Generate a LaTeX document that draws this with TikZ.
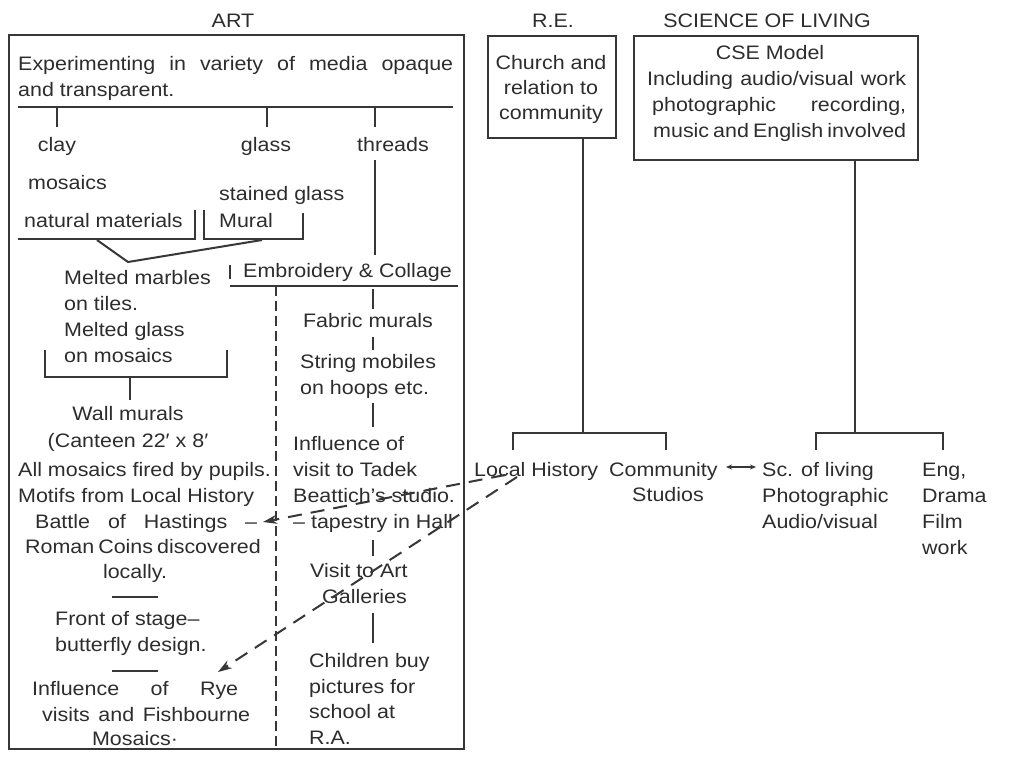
\documentclass[tikz,border=0pt]{standalone}
\usepackage{fontspec}
\setmainfont{Liberation Sans}[FakeStretch=1.1]
\usetikzlibrary{arrows.meta}
\definecolor{ink}{RGB}{55,55,55}
\definecolor{txt}{RGB}{45,45,45}
\newcommand{\myfs}{\fontsize{19.5}{26}\selectfont}
\tikzset{
 every node/.style={font=\myfs, inner sep=0pt, text=txt},
 tl/.style={anchor=base west},
 tc/.style={anchor=base},
 ln/.style={draw=ink, line width=2pt},
 dsh/.style={draw=ink, line width=2pt, dash pattern=on 10pt off 5pt},
 darr/.style={draw=ink, line width=2pt, dash pattern=on 14pt off 9pt, -{Stealth[length=14pt,width=9pt]}},
 boxx/.style={draw=ink, line width=2pt, inner sep=0pt},
 dbl/.style={draw=ink, line width=1.5pt, {Stealth[length=6pt,width=5pt]}-{Stealth[length=6pt,width=5pt]}},
}
\begin{document}
\begin{tikzpicture}[x=1pt,y=-1pt]
\useasboundingbox[fill=white] (0,0) rectangle (1009,758);
% titles
\node[tc] (tart) at (233,27) {ART};
\node[tc] (tre) at (553,27) {R.E.};
\node[tc] (tsol) at (767,27) {SCIENCE OF LIVING};
% frames
\node[boxx, minimum width=455pt, minimum height=714pt, anchor=north west] (art) at (8,34) {};
\node[boxx, minimum width=128pt, minimum height=102pt, anchor=north west] (re) at (487,35) {};
\node[boxx, minimum width=284pt, minimum height=124pt, anchor=north west] (sol) at (633,35) {};
% ART top
\node[tl] (exp1) at (18,70) {\makebox[435pt][s]{Experimenting in variety of media opaque}};
\node[tl] (exp2) at (18,96) {and transparent.};
\coordinate (r1w) at (18,107); \coordinate (r1e) at (453,107);
\draw[ln] (r1w) -- (r1e);
\node[tc] (clay) at (57,151) {clay};
\node[tc] (glass) at (266,151) {glass};
\node[tc] (threads) at (393,151) {threads};
\draw[ln] (57,107) -- (57,127);
\draw[ln] (267,107) -- (267,127);
\draw[ln] (375,107) -- (375,127);
\node[tl] (mos) at (28,189) {mosaics};
\node[tl] (stg) at (219,200) {stained glass};
\node[tl] (nat) at (24,227) {natural materials};
\node[tl] (mur) at (219,227) {Mural};
\draw[ln] (18,239) -- (195,239) -- (195,210);
\draw[ln] (204,210) -- (204,239) -- (303,239) -- (303,213);
\coordinate (vl) at (97,240); \coordinate (vb) at (128,262); \coordinate (vr) at (262,240);
\draw[ln] (vl) -- (vb) -- (vr);
% threads line to embroidery
\draw[ln] (375,160) -- (375,255);
\node[tl] (emb) at (243,277) {Embroidery \& Collage};
\draw[ln] (230,265) -- (230,279);
\coordinate (r2w) at (230,286); \coordinate (r2e) at (458,286);
\draw[ln] (r2w) -- (r2e);
\draw[dsh] (276,286) -- (276,748);
% right sub-column
\draw[ln] (373,289) -- (373,309);
\node[tc] (fab) at (368,327) {Fabric murals};
\draw[ln] (373,337) -- (373,350);
\node[tl] (str1) at (300,368) {String mobiles};
\node[tl] (str2) at (300,394) {on hoops etc.};
\draw[ln] (373,403) -- (373,427);
\node[tl] (inf1) at (293,450) {Influence of};
\node[tl] (inf2) at (293,476) {visit to Tadek};
\node[tl] (inf3) at (293,502) {Beattich’s studio.};
\node[tl] (inf4) at (293,528) {– tapestry in Hall};
\draw[ln] (373,540) -- (373,556);
\node[tl] (vis1) at (310,577) {Visit to Art};
\node[tl] (vis2) at (322,603) {Galleries};
\draw[ln] (373,613) -- (373,643);
\node[tl] (chi1) at (309,667) {Children buy};
\node[tl] (chi2) at (309,693) {pictures for};
\node[tl] (chi3) at (309,718) {school at};
\node[tl] (chi4) at (309,744) {R.A.};
% left sub-column
\node[tl] (mel1) at (64,284) {Melted marbles};
\node[tl] (mel2) at (64,310) {on tiles.};
\node[tl] (mel3) at (64,336) {Melted glass};
\node[tl] (mel4) at (64,362) {on mosaics};
\draw[ln] (45,350) -- (45,377) -- (227,377) -- (227,350);
\draw[ln] (130,377) -- (130,400);
\node[tc] (wal1) at (128,420) {Wall murals};
\node[tc] (wal2) at (128,447) {(Canteen 22′ x 8′};
\node[tl] (all) at (18,476) {All mosaics fired by pupils.};
\node[tl] (mot) at (18,502) {Motifs from Local History};
\node[tl] (bat) at (35,528) {\makebox[222pt][s]{Battle of Hastings –}};
\node[tl] (rom) at (25,553) {\makebox[233pt][s]{Roman Coins discovered}};
\node[tc] (loc) at (135,578) {locally.};
\draw[ln] (112,597) -- (158,597);
\node[tl] (fro1) at (55,625) {Front of stage–};
\node[tl] (fro2) at (55,651) {butterfly design.};
\draw[ln] (112,671) -- (158,671);
\node[tl] (rye1) at (32,695) {\makebox[206pt][s]{Influence of Rye}};
\node[tl] (rye2) at (42,721) {\makebox[208pt][s]{visits and Fishbourne}};
\node[tc] (rye3) at (135,745) {Mosaics·};
% R.E. box text
\node[tc] (ch1) at (551,69) {Church and};
\node[tc] (ch2) at (551,94) {relation to};
\node[tc] (ch3) at (551,119) {community};
% SOL text
\node[tc] (cse1) at (770,59) {CSE Model};
\node[tl] (cse2) at (647,85) {\makebox[259pt][s]{Including audio/visual work}};
\node[tl] (cse3) at (652,111) {\makebox[254pt][s]{photographic recording,}};
\node[tl] (cse4) at (653,137) {\makebox[253pt][s]{music and English involved}};
% R.E. tree
\coordinate (b1) at (583,433);
\draw[ln] (re.south -| b1) -- (b1);
\draw[ln] (513,450) -- (513,433) -- (666,433) -- (666,450);
\coordinate (b2) at (855,433);
\draw[ln] (sol.south -| b2) -- (b2);
\draw[ln] (816,450) -- (816,433) -- (943,433) -- (943,450);
\node[tl] (lh) at (474,476) {Local History};
\node[tl] (com1) at (609,476) {Community};
\node[tc] (com2) at (668,501) {Studios};
\node[tl] (sc1) at (762,476) {Sc. of living};
\node[tl] (sc2) at (762,502) {Photographic};
\node[tl] (sc3) at (762,528) {Audio/visual};
\node[tl] (en1) at (922,476) {Eng,};
\node[tl] (en2) at (922,502) {Drama};
\node[tl] (en3) at (922,528) {Film};
\node[tl] (en4) at (922,554) {work};
\draw[dbl] (726,467) -- (756,467);
% dashed arrows
\coordinate (s1) at (505,475); \coordinate (e1) at (263,522);
\coordinate (s2) at (517,477); \coordinate (e2) at (218,672);
\draw[darr] (s1) -- (e1);
\draw[darr] (s2) -- (e2);
\end{tikzpicture}
\end{document}
